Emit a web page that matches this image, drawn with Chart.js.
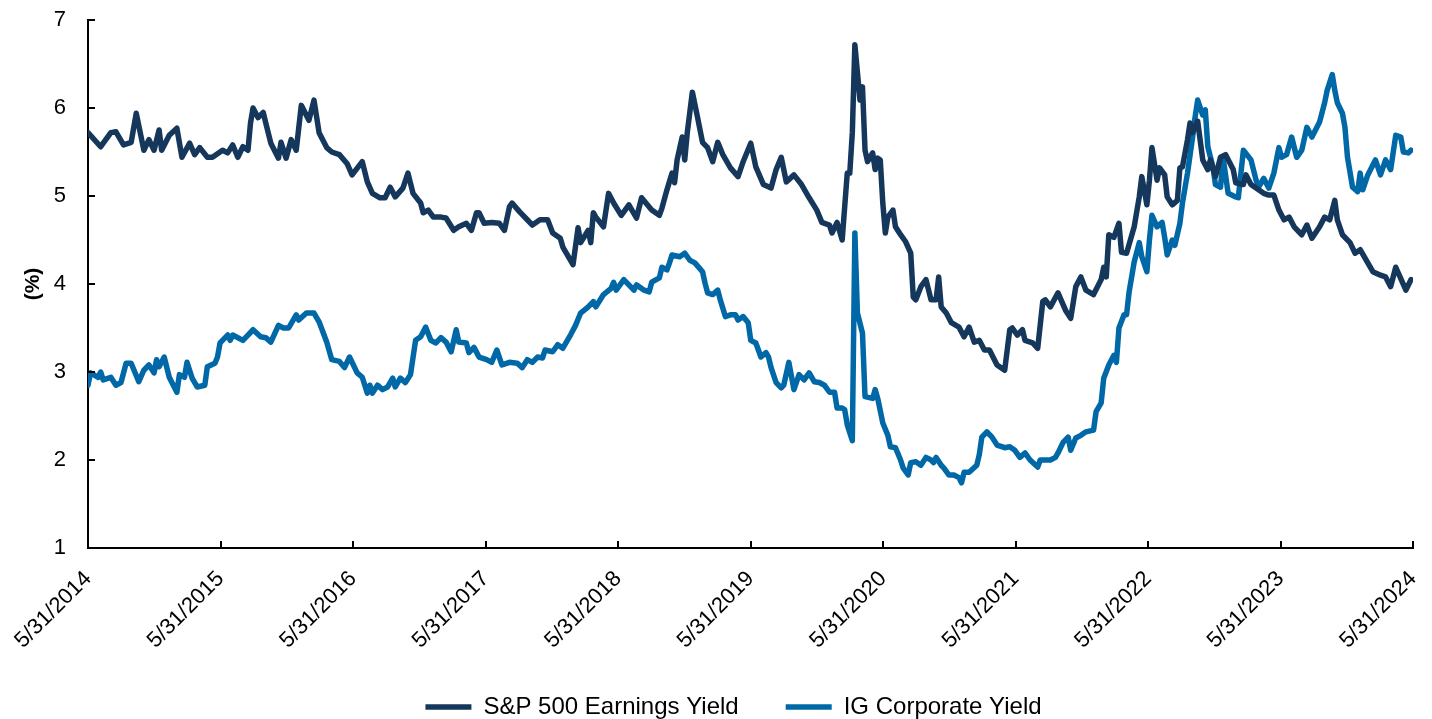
<!DOCTYPE html>
<html>
<head>
<meta charset="utf-8">
<script src="https://cdn.jsdelivr.net/npm/chart.js@4/dist/chart.umd.min.js"></script>
<style>
    html, body { margin: 0; padding: 0; background: #ffffff; }
    #wrap { width: 1432px; height: 719px; position: relative; }
</style>
</head>
<body>
<div id="wrap"><canvas id="yieldChart"></canvas></div>
<script>
// Weekly series, x = weeks since 5/31/2014
const spxWeeks = [
    0, 5, 9, 11, 14, 17, 19, 22, 24, 26,
    28, 29, 32, 35, 37, 40, 42, 44, 47, 49,
    53, 55, 57, 59, 61, 63, 64, 65, 67, 69,
    70, 72, 75, 76, 78, 80, 82, 84, 87, 89,
    91, 94, 96, 99, 102, 104, 108, 110, 112, 115,
    117, 119, 121, 124, 126, 128, 131, 132, 134, 136,
    139, 141, 144, 146, 149, 151, 153, 154, 156, 159,
    162, 164, 166, 167, 170, 173, 175, 178, 181, 183,
    186, 187, 191, 193, 194, 197, 198, 199, 200, 203,
    205, 207, 210, 213, 216, 218, 222, 225, 226, 228,
    230, 231, 232, 234, 235, 236, 238, 240, 242, 244,
    246, 248, 250, 253, 256, 258, 261, 263, 266, 269,
    271, 273, 275, 278, 281, 284, 287, 289, 292, 293,
    295, 297, 299, 300, 301, 302, 304, 305, 306, 307,
    309, 310, 311, 312, 313, 314, 315, 317, 318, 320,
    322, 324, 325, 326, 328, 330, 332, 334, 335, 336,
    338, 340, 343, 345, 347, 349, 351, 353, 355, 358,
    361, 363, 364, 366, 368, 369, 372, 374, 376, 377,
    379, 382, 385, 387, 389, 391, 393, 396, 399, 400,
    401, 402, 404, 406, 407, 409, 412, 414, 415, 417,
    418, 419, 421, 422, 424, 425, 427, 429, 430, 431,
    433, 434, 435, 437, 439, 441, 442, 444, 446, 448,
    451, 452, 455, 456, 458, 460, 463, 465, 467, 469,
    471, 473, 475, 478, 480, 482, 485, 487, 489, 491,
    492, 494, 497, 499, 501, 504, 506, 509, 511, 513,
    515, 517, 519, 521
];
const spxValues = [
    5.72, 5.56, 5.72, 5.73, 5.58, 5.61, 5.94, 5.52, 5.64, 5.52,
    5.75, 5.52, 5.69, 5.77, 5.44, 5.60, 5.47, 5.55, 5.44, 5.44,
    5.52, 5.49, 5.58, 5.44, 5.56, 5.52, 5.83, 6.00, 5.89, 5.95,
    5.83, 5.60, 5.43, 5.61, 5.43, 5.64, 5.52, 6.03, 5.86, 6.09,
    5.72, 5.55, 5.50, 5.47, 5.37, 5.24, 5.39, 5.16, 5.03, 4.98,
    4.98, 5.10, 4.99, 5.09, 5.26, 5.03, 4.92, 4.81, 4.84, 4.76,
    4.76, 4.75, 4.61, 4.65, 4.69, 4.61, 4.81, 4.81, 4.69, 4.70,
    4.69, 4.61, 4.88, 4.92, 4.82, 4.73, 4.67, 4.73, 4.73, 4.58,
    4.52, 4.42, 4.22, 4.64, 4.47, 4.61, 4.47, 4.81, 4.76, 4.65,
    5.03, 4.92, 4.78, 4.90, 4.75, 4.98, 4.84, 4.78, 4.86, 5.07,
    5.26, 5.15, 5.41, 5.67, 5.41, 5.72, 6.18, 5.90, 5.61, 5.55,
    5.39, 5.61, 5.47, 5.32, 5.22, 5.39, 5.60, 5.33, 5.13, 5.09,
    5.30, 5.44, 5.16, 5.24, 5.13, 4.98, 4.84, 4.70, 4.67, 4.58,
    4.70, 4.50, 5.26, 5.26, 5.72, 6.72, 6.09, 6.24, 5.52, 5.39,
    5.49, 5.30, 5.43, 5.41, 4.92, 4.58, 4.76, 4.84, 4.65, 4.56,
    4.48, 4.35, 3.85, 3.82, 3.97, 4.05, 3.82, 3.82, 4.08, 3.74,
    3.67, 3.56, 3.51, 3.40, 3.51, 3.34, 3.36, 3.25, 3.25, 3.08,
    3.02, 3.48, 3.50, 3.42, 3.48, 3.36, 3.33, 3.27, 3.80, 3.82,
    3.74, 3.90, 3.70, 3.61, 3.97, 4.08, 3.93, 3.88, 4.05, 4.19,
    4.08, 4.56, 4.53, 4.69, 4.36, 4.35, 4.65, 4.99, 5.22, 4.90,
    5.18, 5.55, 5.18, 5.32, 5.24, 4.99, 4.90, 4.95, 5.32, 5.33,
    5.64, 5.83, 5.72, 5.85, 5.41, 5.30, 5.41, 5.22, 5.44, 5.47,
    5.30, 5.15, 5.13, 5.24, 5.13, 5.09, 5.03, 5.01, 5.01, 4.84,
    4.73, 4.76, 4.65, 4.56, 4.67, 4.52, 4.65, 4.76, 4.73, 4.95,
    4.73, 4.56, 4.47, 4.35, 4.39, 4.24, 4.14, 4.10, 4.08, 3.97,
    4.19, 4.06, 3.93, 4.05
];

const igWeeks = [
    0, 1, 4, 5, 6, 9, 11, 13, 15, 17,
    20, 22, 24, 26, 27, 28, 30, 32, 35, 36,
    38, 39, 41, 43, 46, 47, 50, 51, 52, 55,
    56, 57, 61, 63, 65, 68, 70, 72, 75, 77,
    79, 82, 83, 86, 89, 91, 94, 96, 99, 101,
    103, 106, 108, 110, 111, 112, 114, 116, 118, 120,
    121, 123, 125, 127, 129, 131, 133, 135, 137, 139,
    141, 143, 145, 146, 149, 150, 152, 154, 157, 159,
    161, 163, 166, 169, 171, 173, 175, 177, 179, 180,
    183, 185, 187, 190, 192, 194, 197, 199, 200, 203,
    206, 207, 208, 211, 215, 216, 219, 221, 222, 225,
    226, 228, 229, 230, 233, 235, 237, 239, 242, 243,
    244, 246, 248, 249, 251, 253, 255, 256, 258, 260,
    261, 263, 265, 267, 268, 269, 271, 273, 274, 276,
    278, 280, 282, 284, 286, 288, 290, 292, 294, 295,
    297, 298, 299, 301, 302, 303, 305, 306, 309, 310,
    311, 313, 315, 316, 318, 320, 321, 323, 324, 326,
    328, 330, 332, 333, 334, 336, 337, 339, 341, 343,
    344, 345, 347, 350, 351, 352, 354, 356, 358, 361,
    363, 365, 367, 369, 371, 374, 375, 379, 381, 382,
    384, 386, 387, 389, 391, 393, 396, 397, 399, 400,
    402, 404, 405, 406, 408, 409, 410, 412, 414, 415,
    417, 418, 419, 421, 423, 424, 425, 427, 428, 430,
    431, 433, 435, 436, 437, 439, 440, 441, 443, 444,
    446, 447, 449, 452, 453, 455, 458, 460, 461, 463,
    465, 467, 469, 470, 472, 474, 476, 478, 480, 482,
    485, 487, 488, 490, 491, 492, 494, 495, 496, 498,
    500, 501, 502, 504, 507, 509, 511, 513, 515, 517,
    518, 520, 521
];
const igValues = [
    2.85, 2.99, 2.94, 3.00, 2.91, 2.94, 2.85, 2.88, 3.10, 3.10,
    2.89, 3.02, 3.08, 2.99, 3.14, 3.06, 3.17, 2.94, 2.77, 2.97,
    2.94, 3.11, 2.93, 2.83, 2.85, 3.06, 3.10, 3.17, 3.33, 3.42,
    3.36, 3.42, 3.36, 3.42, 3.48, 3.40, 3.39, 3.34, 3.53, 3.50,
    3.50, 3.65, 3.59, 3.67, 3.67, 3.57, 3.34, 3.14, 3.12, 3.05,
    3.17, 2.99, 2.94, 2.76, 2.85, 2.76, 2.85, 2.80, 2.83, 2.93,
    2.83, 2.93, 2.88, 2.97, 3.36, 3.40, 3.51, 3.36, 3.33, 3.39,
    3.34, 3.23, 3.48, 3.34, 3.33, 3.22, 3.28, 3.17, 3.14, 3.11,
    3.25, 3.08, 3.11, 3.10, 3.05, 3.14, 3.11, 3.17, 3.16, 3.25,
    3.23, 3.31, 3.27, 3.42, 3.53, 3.67, 3.74, 3.80, 3.74, 3.88,
    3.95, 4.02, 3.93, 4.05, 3.93, 3.99, 3.93, 3.91, 4.02, 4.07,
    4.19, 4.16, 4.24, 4.33, 4.31, 4.35, 4.27, 4.24, 4.14, 4.01,
    3.90, 3.88, 3.93, 3.82, 3.63, 3.65, 3.65, 3.59, 3.63, 3.56,
    3.36, 3.33, 3.17, 3.22, 3.17, 3.05, 2.88, 2.82, 2.85, 3.11,
    2.80, 2.97, 2.91, 2.99, 2.89, 2.88, 2.85, 2.77, 2.77, 2.59,
    2.59, 2.57, 2.40, 2.22, 4.58, 3.67, 3.44, 2.72, 2.70, 2.80,
    2.70, 2.42, 2.28, 2.15, 2.14, 2.00, 1.91, 1.83, 1.97, 1.98,
    1.94, 2.03, 2.00, 1.97, 2.03, 1.94, 1.91, 1.83, 1.83, 1.80,
    1.74, 1.86, 1.86, 1.94, 2.06, 2.26, 2.32, 2.26, 2.17, 2.14,
    2.15, 2.11, 2.03, 2.08, 2.00, 1.92, 2.00, 2.00, 2.03, 2.08,
    2.20, 2.26, 2.11, 2.25, 2.28, 2.32, 2.34, 2.55, 2.65, 2.93,
    3.08, 3.19, 3.11, 3.50, 3.65, 3.65, 3.91, 4.25, 4.47, 4.31,
    4.14, 4.50, 4.78, 4.65, 4.70, 4.53, 4.33, 4.50, 4.44, 4.69,
    4.92, 5.26, 5.67, 5.90, 6.09, 5.92, 5.98, 5.56, 5.33, 5.13,
    5.10, 5.44, 5.03, 4.99, 4.98, 5.52, 5.41, 5.18, 5.10, 5.20,
    5.09, 5.26, 5.55, 5.44, 5.47, 5.67, 5.44, 5.52, 5.78, 5.67,
    5.84, 6.06, 6.20, 6.38, 6.20, 6.06, 5.94, 5.78, 5.44, 5.10,
    5.05, 5.26, 5.07, 5.24, 5.41, 5.24, 5.41, 5.30, 5.69, 5.67,
    5.50, 5.49, 5.52
];

// Axis ticks: one label per anniversary date
const tickLabels = [
    '5/31/2014', '5/31/2015', '5/31/2016', '5/31/2017', '5/31/2018', '5/31/2019',
    '5/31/2020', '5/31/2021', '5/31/2022', '5/31/2023', '5/31/2024'
];
const weeksPerYear = 52.18;
const yMin = 1;
const yMax = 7;

const seriesNames = ['S&P 500 Earnings Yield', 'IG Corporate Yield'];
const seriesColors = ['#15375c', '#0068a6'];

const FONT = "'Liberation Sans', Arial, sans-serif";

function toPoints(weeks, values) {
    return weeks.map((w, i) => ({ x: w, y: values[i] }));
}

/**
 * Short inward tick marks on both axes (the reference draws them inside the plot).
 */
const innerTicks = {
    id: 'innerTicks',
    afterDraw(chart) {
        const { ctx, chartArea } = chart;
        const xs = chart.scales.x;
        const ys = chart.scales.y;
        const len = 7;
        ctx.save();
        ctx.strokeStyle = '#000';
        ctx.lineWidth = 2;
        ctx.beginPath();
        ys.ticks.forEach(t => {
            const py = Math.round(ys.getPixelForValue(t.value));
            ctx.moveTo(chartArea.left, py);
            ctx.lineTo(chartArea.left + len, py);
        });
        xs.ticks.forEach(t => {
            const px = Math.round(xs.getPixelForValue(t.value));
            ctx.moveTo(px, chartArea.bottom);
            ctx.lineTo(px, chartArea.bottom - len);
        });
        ctx.stroke();
        ctx.restore();
    }
};

// The reference legend sits a little left of the plot centre
const legendNudge = {
    id: 'legendNudge',
    afterLayout(chart) {
        const lg = chart.legend;
        if (!lg) return;
        lg.left -= 17;
        lg.right -= 17;
    }
};

function initChart() {
    const ctx = document.getElementById('yieldChart').getContext('2d');

    new Chart(ctx, {
        type: 'line',
        data: {
            datasets: [
                {
                    label: seriesNames[0],
                    data: toPoints(spxWeeks, spxValues),
                    borderColor: seriesColors[0],
                    backgroundColor: seriesColors[0],
                    borderWidth: 5.5
                },
                {
                    label: seriesNames[1],
                    data: toPoints(igWeeks, igValues),
                    borderColor: seriesColors[1],
                    backgroundColor: seriesColors[1],
                    borderWidth: 5.5
                }
            ]
        },
        options: {
            responsive: true,
            maintainAspectRatio: false,
            animation: false,
            devicePixelRatio: 1,
            layout: {
                padding: { top: 20, right: 19, bottom: -10, left: 0 }
            },
            elements: {
                line: {
                    tension: 0,
                    borderCapStyle: 'round',
                    borderJoinStyle: 'round'
                },
                point: { radius: 0, hoverRadius: 0 }
            },
            plugins: {
                tooltip: { enabled: false },
                legend: {
                    position: 'bottom',
                    fullSize: false,
                    labels: {
                        usePointStyle: true,
                        pointStyle: 'line',
                        pointStyleWidth: 46,
                        padding: 47,
                        color: '#000',
                        font: { family: FONT, size: 24 }
                    }
                }
            },
            scales: {
                x: {
                    type: 'linear',
                    min: 0,
                    max: weeksPerYear * (tickLabels.length - 1),
                    afterBuildTicks: axis => {
                        axis.ticks = tickLabels.map((_, i) => ({ value: i * weeksPerYear }));
                    },
                    afterFit: axis => {
                        axis.height = 100;
                        axis.paddingLeft = 0;
                        axis.paddingRight = 0;
                    },
                    grid: { display: false, drawTicks: false },
                    border: { display: true, color: '#000', width: 2 },
                    ticks: {
                        autoSkip: false,
                        minRotation: 45,
                        maxRotation: 45,
                        padding: 18,
                        color: '#000',
                        font: { family: FONT, size: 22 },
                        callback: (value, index) => tickLabels[index]
                    }
                },
                y: {
                    min: yMin,
                    max: yMax,
                    afterFit: axis => {
                        axis.width = 88;
                        axis.paddingTop = 0;
                        axis.paddingBottom = 0;
                    },
                    grid: { display: false, drawTicks: false },
                    border: { display: true, color: '#000', width: 2 },
                    ticks: {
                        stepSize: 1,
                        padding: 22,
                        color: '#000',
                        font: { family: FONT, size: 22 }
                    },
                    title: {
                        display: true,
                        text: '(%)',
                        color: '#000',
                        padding: { top: 21, bottom: 0 },
                        font: { family: FONT, size: 21, weight: 'bold' }
                    }
                }
            }
        },
        plugins: [innerTicks, legendNudge]
    });
}

document.addEventListener('DOMContentLoaded', initChart);
</script>
</body>
</html>
